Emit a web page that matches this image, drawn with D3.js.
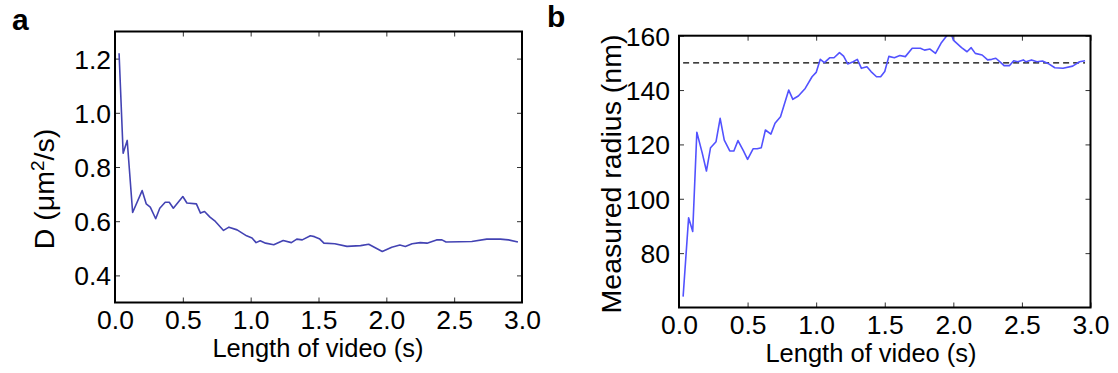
<!DOCTYPE html>
<html><head><meta charset="utf-8">
<script src="https://cdn.jsdelivr.net/npm/d3@7"></script>
<style>body{margin:0;background:#fff} text{font-family:"Liberation Sans",Arial,Helvetica,sans-serif}</style>
</head><body><svg id="c" width="1118" height="373"></svg>
<script>
// ---- data ----
const tA = [0.03,0.06,0.09,0.13,0.20,0.23,0.26,0.30,0.33,0.37,0.40,0.43,0.50,0.53,0.60,0.63,0.66,0.70,0.74,0.80,0.84,0.90,0.97,1.01,1.04,1.07,1.11,1.17,1.24,1.30,1.34,1.38,1.44,1.47,1.51,1.54,1.62,1.71,1.81,1.87,1.97,2.04,2.10,2.14,2.19,2.25,2.30,2.37,2.41,2.44,2.54,2.63,2.74,2.84,2.90,2.97];
const dA = [1.22,0.851,0.898,0.632,0.713,0.664,0.652,0.609,0.648,0.670,0.670,0.648,0.691,0.667,0.664,0.630,0.636,0.615,0.599,0.566,0.578,0.568,0.546,0.538,0.521,0.528,0.519,0.513,0.529,0.521,0.534,0.531,0.546,0.543,0.534,0.519,0.517,0.507,0.510,0.515,0.488,0.504,0.512,0.507,0.517,0.521,0.519,0.531,0.531,0.523,0.524,0.525,0.534,0.534,0.531,0.523];
const tB = [0.03,0.07,0.10,0.13,0.17,0.20,0.23,0.27,0.30,0.33,0.37,0.40,0.43,0.47,0.50,0.54,0.57,0.60,0.63,0.67,0.70,0.74,0.80,0.83,0.87,0.92,0.97,1.00,1.03,1.06,1.10,1.13,1.17,1.20,1.23,1.27,1.30,1.33,1.37,1.40,1.44,1.47,1.50,1.53,1.57,1.61,1.65,1.70,1.76,1.79,1.83,1.87,1.91,1.96,1.99,2.00,2.06,2.10,2.13,2.16,2.21,2.25,2.28,2.31,2.34,2.37,2.41,2.44,2.47,2.51,2.53,2.57,2.61,2.65,2.69,2.74,2.80,2.87,2.92,2.96];
const rB = [64,93,88,124.5,116.7,110.2,118.8,121,129.6,121.6,117.6,117.6,121.4,117.6,114.5,118.4,118.4,118.8,125.3,123.8,127.8,130.2,140,136.6,137.8,140.6,144.9,146.5,151.3,150.1,151.9,151.9,153.8,152.5,149.6,150.4,151.3,148,148.6,146.8,144.9,144.9,146.8,152.4,151.9,152.7,152.3,155.4,155.4,154.7,155.1,153.5,157.2,160.5,159.9,158.4,155.6,154.1,155.6,153.5,152.9,151.1,151.3,151.7,150.4,149,149,150.8,150.4,151.1,150.4,151.1,150.4,150.7,149.8,148.2,148,148.8,150.4,150.8];
const xTicks = [0, 0.5, 1.0, 1.5, 2.0, 2.5, 3.0];
const yTicksA = [0.4, 0.6, 0.8, 1.0, 1.2];
const yTicksB = [80, 100, 120, 140, 160];
const refRadius = 150;
const xLabel = "Length of video (s)";
const yLabelB = "Measured radius (nm)";

const svg = d3.select("#c");

function panel(o) {
  const x = d3.scaleLinear().domain([0, 3]).range([o.l, o.r]);
  const y = d3.scaleLinear().domain(o.yDom).range([o.b, o.t]);
  const g = svg.append("g");
  const id = "clip" + o.name;
  svg.append("clipPath").attr("id", id).append("rect")
    .attr("x", o.l).attr("y", o.t).attr("width", o.r - o.l).attr("height", o.b - o.t);

  const styleAxis = sel => {
    sel.select(".domain").remove();
    sel.selectAll(".tick line").attr("stroke", "#333").attr("stroke-width", 1);
    sel.selectAll("text").attr("font-size", 26.5).attr("fill", "#000")
      .style("font-family", '"Liberation Sans",Arial,sans-serif');
  };
  const gb = g.append("g").attr("transform", `translate(0,${o.b})`)
    .call(d3.axisBottom(x).tickValues(xTicks).tickSize(-5).tickFormat(d3.format(".1f")));
  styleAxis(gb);
  gb.selectAll("text").attr("y", o.xLabY).attr("dy", 0);
  const gt = g.append("g").attr("transform", `translate(0,${o.t})`)
    .call(d3.axisTop(x).tickValues(xTicks).tickSize(-5).tickFormat(""));
  styleAxis(gt);
  const gl = g.append("g").attr("transform", `translate(${o.l},0)`)
    .call(d3.axisLeft(y).tickValues(o.yTicks).tickSize(-5).tickPadding(o.pad).tickFormat(o.fmt));
  styleAxis(gl);
  gl.selectAll("text").attr("dy", "0.36em");
  const gr = g.append("g").attr("transform", `translate(${o.r},0)`)
    .call(d3.axisRight(y).tickValues(o.yTicks).tickSize(-5).tickFormat(""));
  styleAxis(gr);

  const pts = o.xs.map((v, i) => [v, o.ys[i]]);
  if (o.ref !== undefined) {
    g.append("line").attr("clip-path", `url(#${id})`)
      .attr("x1", x(d3.min(o.xs))).attr("x2", x(d3.max(o.xs)))
      .attr("y1", y(o.ref)).attr("y2", y(o.ref))
      .attr("stroke", "#000").attr("stroke-width", 1.3).attr("stroke-dasharray", "6,4");
  }
  g.append("path").datum(pts).attr("clip-path", `url(#${id})`)
    .attr("fill", "none").attr("stroke", o.color).attr("stroke-width", 1.6)
    .attr("stroke-linejoin", "round")
    .attr("d", d3.line().x(d => x(d[0])).y(d => y(d[1])));

  g.append("rect").attr("x", o.l).attr("y", o.t).attr("width", o.r - o.l).attr("height", o.b - o.t)
    .attr("fill", "none").attr("stroke", "#000").attr("stroke-width", 2);

  g.append("text").attr("x", o.xlX).attr("y", o.xlY).attr("text-anchor", "middle")
    .attr("font-size", 25.5).text(xLabel);
  g.append("text").attr("x", o.letterX).attr("y", o.letterY).attr("font-size", 30)
    .attr("font-weight", "bold").text(o.name);
  return g;
}

const ga = panel({name: "a", l: 115, r: 522, t: 31.5, b: 302.5, yDom: [0.3, 1.3], yTicks: yTicksA,
  fmt: d3.format(".1f"), pad: 4, xs: tA, ys: dA, color: "#4343b3", xLabY: 26,
  xlX: 318, xlY: 357, letterX: 12, letterY: 30});
const yla = ga.append("text").attr("transform", "translate(54,189) rotate(-90)")
  .attr("text-anchor", "middle").attr("font-size", 28.5);
yla.append("tspan").text("D (\u03bcm");
yla.append("tspan").attr("font-size", 19).attr("dy", "-0.55em").text("2");
yla.append("tspan").attr("dy", "0.38em").text("/s)");

const gbp = panel({name: "b", l: 679, r: 1090.5, t: 35.7, b: 307.5, yDom: [60, 160], yTicks: yTicksB,
  fmt: d3.format("d"), pad: 9, xs: tB, ys: rB, color: "#5252ff", ref: refRadius, xLabY: 26,
  xlX: 871, xlY: 362, letterX: 547, letterY: 27});
gbp.append("text").attr("transform", "translate(621,174) rotate(-90)")
  .attr("text-anchor", "middle").attr("font-size", 28.5).text(yLabelB);
</script></body></html>
